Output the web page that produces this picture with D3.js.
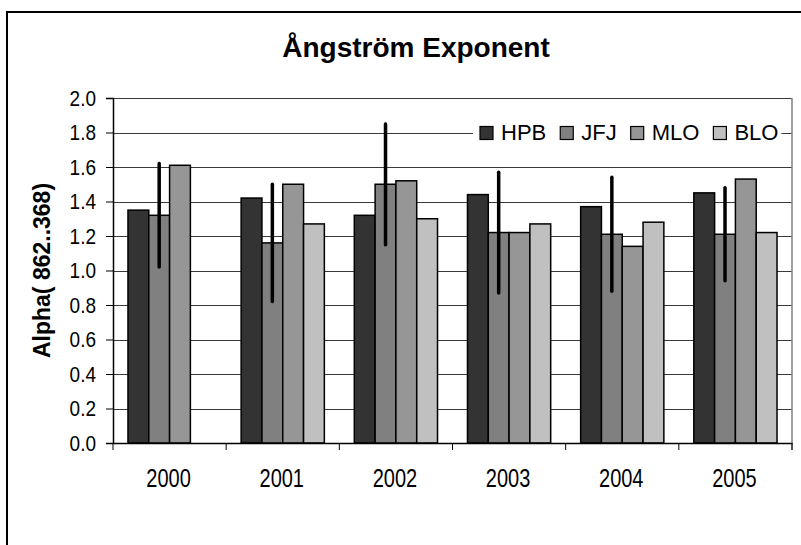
<!DOCTYPE html>
<html lang="en">
  <head>
  <meta charset="utf-8">
  <script type="text/javascript" src="https://cdn.jsdelivr.net/npm/d3@7"></script>
  <style type="text/css">
    body { margin: 0; background: #fff; }
    text { font-family: "Liberation Sans", Arial, sans-serif; fill: #000; }
    .grid line { stroke: #3a3a3a; stroke-width: 1; shape-rendering: crispEdges; }
    .grid path { display: none; }
    .bar { stroke: #000; stroke-width: 1.5; }
    .err { stroke: #000; stroke-width: 3.5; stroke-linecap: round; }
  </style>
  </head>
  <body>
    <div id="svg"></div>
    <script type="text/javascript">
      // values
      var years = ["2000", "2001", "2002", "2003", "2004", "2005"];
      var series = ["HPB", "JFJ", "MLO", "BLO"];
      var hpb = [1.35, 1.42, 1.32, 1.44, 1.37, 1.45];
      var jfj = [1.32, 1.16, 1.50, 1.22, 1.21, 1.21];
      var mlo = [1.61, 1.50, 1.52, 1.22, 1.14, 1.53];
      var blo = [null, 1.27, 1.30, 1.27, 1.28, 1.22];
      var jfjErr = [0.30, 0.34, 0.35, 0.35, 0.33, 0.27];
      var yTicks = [0, 0.2, 0.4, 0.6, 0.8, 1.0, 1.2, 1.4, 1.6, 1.8, 2.0];
      var colors = ["#333333", "#808080", "#969696", "#c0c0c0"];

      var values = [hpb, jfj, mlo, blo];
      var W = 801, H = 545;
      var plot = {left: 113, right: 792, top: 98, bottom: 443};

      var svg = d3.select("#svg").append("svg")
        .attr("width", W).attr("height", H);

      // chart border (runs off the page at right and bottom)
      svg.append("rect")
        .attr("x", 7).attr("y", 12)
        .attr("width", 830).attr("height", 560)
        .attr("fill", "#fff").attr("stroke", "#000").attr("stroke-width", 2);

      var x0 = d3.scaleBand().domain(years).range([plot.left, plot.right]);
      var x1 = d3.scaleBand().domain(series).range([0, x0.bandwidth()])
        .paddingInner(0).paddingOuter(0.72);
      var y = d3.scaleLinear().domain([0, 2]).range([plot.bottom, plot.top]);

      // gridlines
      svg.append("g")
        .attr("class", "grid")
        .attr("transform", "translate(" + plot.left + ",0)")
        .call(d3.axisLeft(y).tickValues(yTicks.slice(1)).tickSize(-(plot.right - plot.left)).tickFormat(""));

      // plot area border, right side
      svg.append("line")
        .attr("x1", plot.right).attr("x2", plot.right)
        .attr("y1", y(2)).attr("y2", plot.bottom + 7)
        .attr("stroke", "#808080").attr("stroke-width", 1.5);

      // bars
      var table = [];
      years.forEach(function(yr, i) {
        series.forEach(function(s, j) {
          if (values[j][i] != null) table.push({year: yr, key: s, idx: j, value: values[j][i]});
        });
      });

      svg.append("g").selectAll("rect")
        .data(table)
        .enter().append("rect")
          .attr("class", "bar")
          .attr("x", function(d) { return x0(d.year) + x1(d.key); })
          .attr("y", function(d) { return y(d.value); })
          .attr("width", x1.bandwidth())
          .attr("height", function(d) { return y(0) - y(d.value); })
          .attr("fill", function(d) { return colors[d.idx]; });

      // JFJ error bars
      svg.append("g").selectAll("line")
        .data(years)
        .enter().append("line")
          .attr("class", "err")
          .attr("x1", function(d) { return x0(d) + x1("JFJ") + x1.bandwidth() / 2; })
          .attr("x2", function(d) { return x0(d) + x1("JFJ") + x1.bandwidth() / 2; })
          .attr("y1", function(d, i) { return y(jfj[i] - jfjErr[i]); })
          .attr("y2", function(d, i) { return y(jfj[i] + jfjErr[i]); });

      // y axis (labels drawn separately, a bit tall like the original)
      var yAxis = svg.append("g")
        .attr("transform", "translate(" + plot.left + ",0)")
        .call(d3.axisLeft(y).tickValues(yTicks).tickSize(7).tickFormat(""));
      yAxis.select(".domain").attr("stroke", "#000").attr("stroke-width", 1.5);
      yAxis.selectAll(".tick line").attr("stroke", "#000");

      svg.append("g").selectAll("text")
        .data(yTicks)
        .enter().append("text")
          .attr("transform", function(d) { return "translate(96," + y(d) + ") scale(1,1.15)"; })
          .attr("text-anchor", "end")
          .attr("dy", "0.36em")
          .style("font-size", "19px")
          .text(d3.format(".1f"));

      // category axis
      var xAxis = svg.append("g")
        .attr("transform", "translate(0," + plot.bottom + ")")
        .call(d3.axisBottom(x0).tickSize(0).tickFormat(""));
      xAxis.select(".domain").attr("stroke", "#000").attr("stroke-width", 1.5);

      var edges = years.map(function(d) { return x0(d); }).concat([plot.right]);
      svg.append("g").selectAll("line")
        .data(edges)
        .enter().append("line")
          .attr("x1", function(d) { return d; }).attr("x2", function(d) { return d; })
          .attr("y1", plot.bottom).attr("y2", plot.bottom + 7)
          .attr("stroke", "#000");

      svg.append("g").selectAll("text")
        .data(years)
        .enter().append("text")
          .attr("transform", function(d) { return "translate(" + (x0(d) + x0.bandwidth() / 2 - 1) + ",487) scale(1,1.25)"; })
          .attr("text-anchor", "middle")
          .style("font-size", "20px")
          .text(function(d) { return d; });

      // legend
      var legend = svg.append("g").attr("transform", "translate(473," + y(1.8) + ")");
      var lgBg = legend.append("rect").attr("fill", "#fff");
      var cx = 7;
      series.forEach(function(s, j) {
        legend.append("rect")
          .attr("x", cx).attr("y", -6).attr("width", 13).attr("height", 13)
          .attr("fill", colors[j]).attr("stroke", "#000").attr("stroke-width", 1.2);
        var t = legend.append("text")
          .attr("x", cx + 21).attr("y", 7.5)
          .style("font-size", "22px")
          .text(s);
        cx += 21 + t.node().getComputedTextLength() + 14;
      });
      lgBg.attr("x", 0).attr("y", -15).attr("width", cx - 11).attr("height", 30);

      // title and y label
      svg.append("text")
        .attr("x", 416).attr("y", 57)
        .attr("text-anchor", "middle")
        .style("font-size", "28px").style("font-weight", "bold")
        .text("Ångström Exponent");

      svg.append("text")
        .attr("transform", "translate(50," + (plot.top + plot.bottom) / 2 + ") rotate(-90)")
        .attr("text-anchor", "middle")
        .style("font-size", "23px").style("font-weight", "bold")
        .text("Alpha( 862..368)");
    </script>
  </body>
</html>
